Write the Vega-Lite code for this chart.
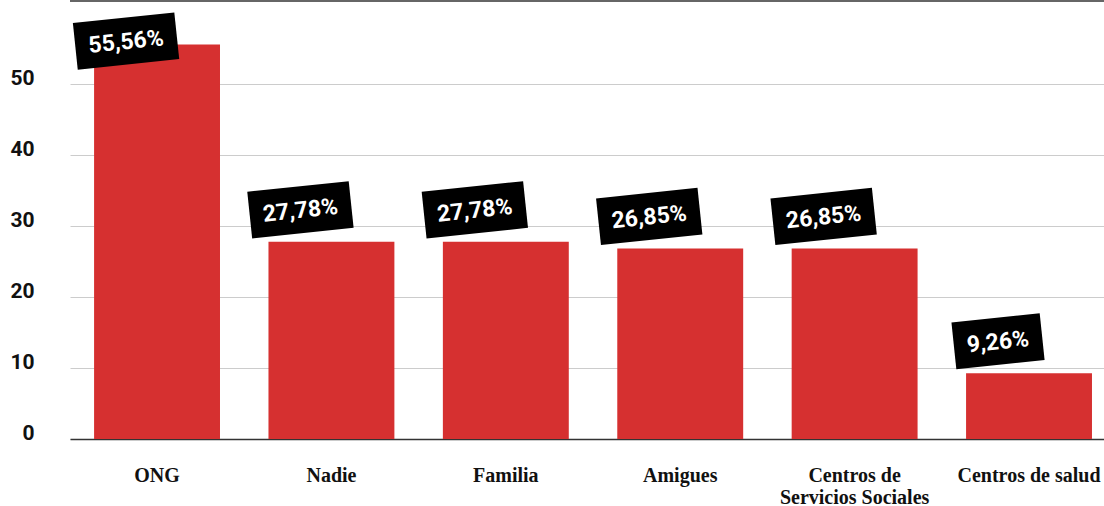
{
  "$schema": "https://vega.github.io/schema/vega-lite/v6.json",
  "width": 1034,
  "height": 438,
  "autosize": "none",
  "padding": {"left": 70, "top": 1, "right": 0, "bottom": 67},
  "background": "white",
  "config": {"view": {"stroke": null}},
  "data": {
    "values": [
      {"cat": "ONG", "value": 55.56},
      {"cat": "Nadie", "value": 27.78},
      {"cat": "Familia", "value": 27.78},
      {"cat": "Amigues", "value": 26.85},
      {"cat": "Centros de Servicios Sociales", "value": 26.85},
      {"cat": "Centros de salud", "value": 9.26}
    ]
  },
  "transform": [
    {"calculate": "replace(format(datum.value, '.2f'), '.', ',') + '%'", "as": "label"}
  ],
  "encoding": {
    "x": {
      "field": "cat",
      "type": "nominal",
      "sort": null,
      "scale": {"paddingInner": 0.278, "paddingOuter": 0.1035, "align": 0.667},
      "axis": {
        "title": null,
        "labelAngle": 0,
        "ticks": false,
        "domainColor": "#333333",
        "domainWidth": 1.5,
        "labelFont": "Liberation Serif",
        "labelFontWeight": "bold",
        "labelFontSize": 20,
        "labelColor": "#111111",
        "labelPadding": 26,
        "labelLineHeight": 22,
        "labelBaseline": "top",
        "labelExpr": "datum.label == 'Centros de Servicios Sociales' ? ['Centros de', 'Servicios Sociales'] : datum.label"
      }
    }
  },
  "layer": [
    {
      "mark": {"type": "bar", "color": "#d63030"},
      "encoding": {
        "y": {
          "field": "value",
          "type": "quantitative",
          "scale": {"domain": [0, 61.7], "nice": false},
          "axis": {
            "title": null,
            "values": [0, 10, 20, 30, 40, 50],
            "domain": false,
            "ticks": false,
            "gridColor": "#cccccc",
            "gridWidth": 1,
            "labelFont": "Roboto",
            "labelFontWeight": "bold",
            "labelFontSize": 21,
            "labelColor": "#111111",
            "labelPadding": 36,
            "labelBaseline": "alphabetic"
          }
        }
      }
    },
    {
      "mark": {"type": "rule", "color": "#666666", "strokeWidth": 2},
      "encoding": {"y": {"datum": 61.7, "type": "quantitative"}, "x": null}
    },
    {
      "mark": {
        "type": "point",
        "filled": true,
        "color": "black",
        "opacity": 1,
        "size": 10404,
        "angle": -6,
        "xOffset": -31,
        "yOffset": {"expr": "datum.value > 50 ? -3.5 : -32"}
      },
      "encoding": {
        "y": {"field": "value", "type": "quantitative"},
        "shape": {
          "condition": {"test": "datum.value < 10", "value": "M-0.87,-0.46H0.87V0.46H-0.87Z"},
          "value": "M-1,-0.46H1V0.46H-1Z"
        }
      }
    },
    {
      "mark": {
        "type": "text",
        "color": "white",
        "font": "Roboto",
        "fontWeight": "bold",
        "fontSize": 23,
        "angle": -6,
        "align": "center",
        "baseline": "middle",
        "xOffset": -31,
        "yOffset": {"expr": "datum.value > 50 ? -2.5 : -31"}
      },
      "encoding": {
        "y": {"field": "value", "type": "quantitative"},
        "text": {"field": "label"}
      }
    }
  ]
}
